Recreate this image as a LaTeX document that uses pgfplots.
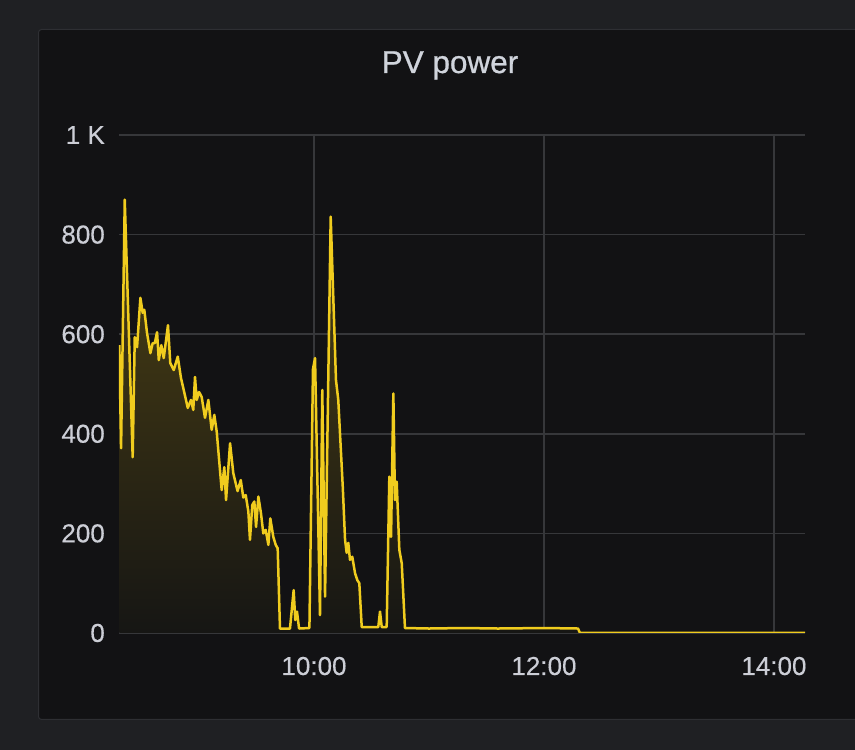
\documentclass[border=0pt]{standalone}
\usepackage{pgfplots}
\pgfplotsset{compat=1.18}
\usepackage{pgfplotstable}
\usepackage{fontspec}
\setmainfont{Liberation Sans}
\newfontfamily\titlefont{Liberation Sans}[FakeBold=0.8]
\newfontfamily\tickfont{Liberation Sans}[FakeBold=0.3]
\definecolor{outerbg}{RGB}{31,32,35}
\definecolor{panelbg}{RGB}{18,18,20}
\definecolor{panelborder}{RGB}{46,47,51}
\definecolor{gridcol}{RGB}{54,55,58}
\definecolor{tickcol}{RGB}{204,206,214}
\definecolor{titlecol}{RGB}{208,212,220}
\definecolor{pvline}{RGB}{240,204,30}
\definecolor{filltop}{RGB}{78,66,20}
\definecolor{fillbot}{RGB}{22,22,20}

\pgfplotstableread{
t w
8.307 578
8.322 371
8.354 870
8.423 353
8.441 594
8.461 574
8.490 673
8.510 643
8.524 649
8.548 602
8.577 562
8.597 582
8.615 582
8.635 604
8.650 548
8.672 578
8.693 552
8.730 618
8.750 542
8.780 528
8.815 555
8.843 512
8.863 492
8.902 452
8.930 468
8.950 448
8.965 514
8.980 468
9.000 484
9.023 474
9.052 432
9.081 468
9.110 408
9.133 438
9.154 404
9.197 287
9.220 333
9.235 267
9.270 381
9.298 321
9.335 285
9.363 307
9.385 272
9.406 277
9.429 244
9.443 187
9.463 257
9.481 264
9.496 213
9.516 274
9.539 240
9.559 200
9.580 207
9.603 177
9.620 230
9.646 193
9.667 177
9.684 170
9.704 9
9.791 9
9.823 86
9.837 26
9.852 43
9.870 9
9.960 10
9.991 530
10.009 552
10.052 36
10.072 488
10.096 73
10.145 836
10.191 508
10.211 468
10.250 294
10.270 187
10.284 161
10.298 181
10.313 147
10.333 153
10.357 120
10.377 106
10.394 100
10.415 12
10.559 12
10.574 43
10.589 12
10.632 12
10.655 314
10.670 193
10.690 481
10.704 267
10.719 304
10.742 167
10.763 140
10.791 10
11.000 9
11.300 10
11.600 9
12.000 10
12.296 9
12.313 0
14.270 0
}\pvdata

\begin{document}
\begin{tikzpicture}
\path[use as bounding box] (0pt,0pt) rectangle (855pt,750pt);
\fill[outerbg] (0pt,0pt) rectangle (855pt,750pt);
\filldraw[fill=panelbg, draw=panelborder, line width=1pt, rounded corners=3pt] (38.5pt,30.5pt) rectangle (880pt,720.5pt);
\node[anchor=base, text=titlecol, font=\titlefont\fontsize{31.5}{36}\selectfont, inner sep=0pt] at (450pt,677pt) {PV power};
\begin{axis}[
  at={(119pt,117pt)}, anchor=south west,
  scale only axis, width=686pt, height=498pt,
  xmin=8.304, xmax=14.270, ymin=0, ymax=1000,
  axis line style={draw=none},
  tick style={draw=none},
  major tick length=0pt,
  xtick={10,12,14},
  xticklabels={10:00,12:00,14:00},
  ytick={0,200,400,600,800,1000},
  yticklabels={0,200,400,600,800,1 K},
  grid=major,
  major grid style={draw=gridcol, line width=1.7pt},
  tick label style={text=tickcol, font=\tickfont\fontsize{26}{30}\selectfont, inner sep=0pt},
  xticklabel style={anchor=base, yshift=-42pt},
  yticklabel style={anchor=east, xshift=-14pt},
  /pgf/number format/assume math mode=true,
]
\addplot[draw=none, top color=filltop, bottom color=fillbot] table[x=t,y=w] {\pvdata} \closedcycle;
\addplot[pvline, line width=2.5pt, line join=round, mark=none] table[x=t,y=w] {\pvdata};
\end{axis}
\end{tikzpicture}
\end{document}
